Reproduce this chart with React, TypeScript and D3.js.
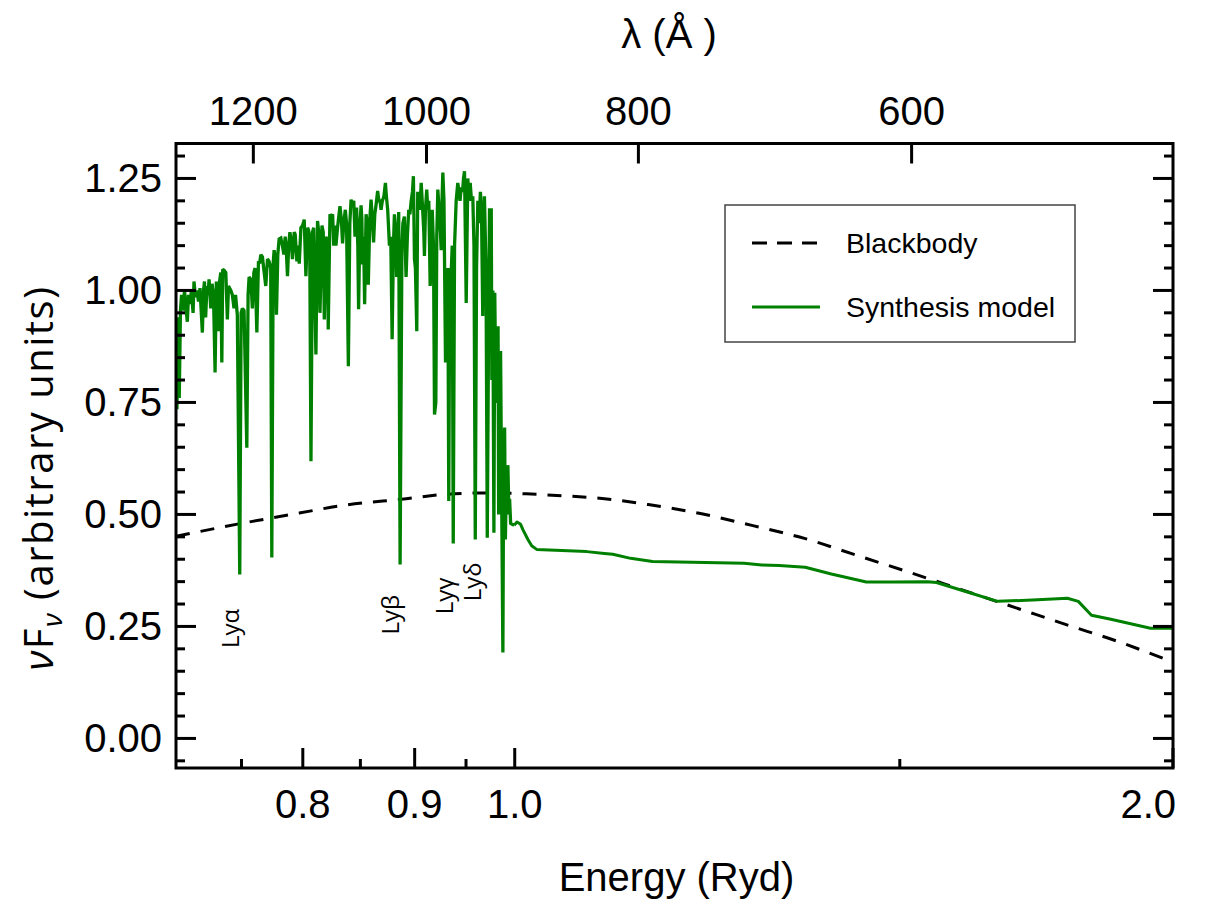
import React from 'react';
import * as d3 from 'd3';

// ---------- data ----------
const energyDomain: [number, number] = [0.7, 2.0];
const fluxDomain: [number, number] = [-0.066, 1.328];

const bottomMajorTicks = [0.8, 0.9, 1.0, 2.0];
const bottomTickLabels = ['0.8', '0.9', '1.0', '2.0'];
const bottomMinorTicks = [0.75, 0.85, 0.95, 1.5];
const topTicksAngstrom = [1200, 1000, 800, 600];
const RYD_IN_ANGSTROM = 911.27;
const yMajorTicks = [0, 0.25, 0.5, 0.75, 1.0, 1.25];
const yTickLabels = ['0.00', '0.25', '0.50', '0.75', '1.00', '1.25'];
const yMinorTicks = [-0.05, 0.05, 0.1, 0.15, 0.2, 0.3, 0.35, 0.4, 0.45, 0.55, 0.6, 0.65, 0.7, 0.8, 0.85, 0.9, 0.95, 1.05, 1.1, 1.15, 1.2, 1.3];

const lymanLabels = [
  { name: 'Lyα', energy: 0.7483, flux: 0.202 },
  { name: 'Lyβ', energy: 0.8853, flux: 0.232 },
  { name: 'Lyγ', energy: 0.9373, flux: 0.277 },
  { name: 'Lyδ', energy: 0.9652, flux: 0.306 },
];

// Synthesis model, Lyman forest part (Energy [Ryd], nuFnu)
const synthesisForest: [number, number][] = [
  [0.7000, 0.80], [0.7007, 0.735], [0.7016, 0.94], [0.7024, 0.76], [0.7033, 0.955], [0.7041, 0.99], [0.7052, 0.955], [0.7063, 1.00],
  [0.7074, 0.96], [0.7084, 0.93], [0.7093, 0.99], [0.7104, 0.97], [0.7115, 1.00], [0.7127, 0.95], [0.7134, 1.02], [0.7145, 0.985],
  [0.7156, 1.00], [0.7168, 0.975], [0.7179, 1.005], [0.7197, 0.906], [0.7206, 1.00], [0.7213, 1.02], [0.7222, 0.94], [0.7232, 1.01],
  [0.7240, 0.99], [0.7248, 1.025], [0.7261, 0.96], [0.7271, 1.015], [0.7282, 0.99], [0.7294, 0.817], [0.7304, 1.02], [0.7311, 0.97],
  [0.7319, 0.909], [0.7329, 1.02], [0.7338, 1.04], [0.7346, 0.839], [0.7353, 1.047], [0.7363, 1.045], [0.7377, 1.04], [0.7389, 0.935],
  [0.7398, 1.01], [0.7416, 1.00], [0.7428, 0.99], [0.7441, 0.96], [0.7453, 0.99], [0.7467, 0.945], [0.7486, 0.366], [0.7497, 0.95],
  [0.7507, 0.96], [0.7520, 0.955], [0.7542, 0.649], [0.7552, 0.99], [0.7560, 1.03], [0.7574, 1.025], [0.7586, 0.96], [0.7598, 1.04],
  [0.7608, 1.05], [0.7622, 0.906], [0.7635, 1.065], [0.7644, 1.06], [0.7654, 1.08], [0.7667, 1.075], [0.7681, 1.04], [0.7694, 1.01],
  [0.7708, 1.07], [0.7721, 1.065], [0.7734, 1.05], [0.7743, 0.404], [0.7754, 1.06], [0.7762, 1.09], [0.7773, 1.07], [0.7781, 0.946],
  [0.7792, 1.08], [0.7803, 1.115], [0.7817, 1.117], [0.7830, 1.10], [0.7842, 1.08], [0.7853, 1.12], [0.7861, 1.095], [0.7872, 1.032],
  [0.7882, 1.10], [0.7892, 1.13], [0.7903, 1.11], [0.7913, 1.07], [0.7928, 1.13], [0.7936, 1.125], [0.7950, 1.065], [0.7961, 1.10],
  [0.7970, 1.06], [0.7984, 1.14], [0.7997, 1.144], [0.8012, 1.158], [0.8026, 1.032], [0.8040, 1.14], [0.8048, 1.135], [0.8058, 1.12],
  [0.8069, 0.619], [0.8082, 1.13], [0.8092, 1.14], [0.8111, 0.857], [0.8125, 1.155], [0.8135, 1.13], [0.8146, 0.95], [0.8163, 1.145],
  [0.8174, 1.13], [0.8183, 0.935], [0.8197, 1.12], [0.8209, 1.11], [0.8217, 0.913], [0.8232, 1.17], [0.8243, 1.165], [0.8255, 1.17],
  [0.8265, 1.10], [0.8274, 1.145], [0.8284, 1.10], [0.8298, 1.14], [0.8319, 1.188], [0.8331, 1.16], [0.8342, 1.105], [0.8353, 1.15],
  [0.8366, 1.18], [0.8377, 1.15], [0.8393, 0.831], [0.8406, 1.15], [0.8417, 1.203], [0.8428, 1.19], [0.8441, 1.20], [0.8452, 1.12],
  [0.8466, 1.185], [0.8477, 1.10], [0.8484, 0.958], [0.8495, 1.14], [0.8506, 1.19], [0.8513, 1.16], [0.8520, 1.058], [0.8529, 1.12],
  [0.8538, 0.969], [0.8551, 1.17], [0.8562, 1.15], [0.8571, 1.013], [0.8585, 1.16], [0.8596, 1.203], [0.8608, 1.16], [0.8619, 1.107],
  [0.8630, 1.17], [0.8641, 1.19], [0.8656, 1.222], [0.8667, 1.20], [0.8678, 1.20], [0.8687, 1.18], [0.8699, 1.20], [0.8713, 1.21],
  [0.8727, 1.240], [0.8736, 1.21], [0.8748, 1.18], [0.8764, 1.10], [0.8776, 1.12], [0.8789, 0.891], [0.8801, 1.10], [0.8810, 1.17],
  [0.8822, 1.13], [0.8831, 1.03], [0.8841, 1.10], [0.8850, 1.175], [0.8863, 0.388], [0.8880, 1.10], [0.8889, 1.15], [0.8903, 1.165],
  [0.8919, 1.03], [0.8931, 1.12], [0.8944, 1.18], [0.8955, 1.17], [0.8967, 1.20], [0.8979, 1.22], [0.8988, 1.255], [0.8998, 1.07],
  [0.9007, 1.05], [0.9020, 0.909], [0.9029, 1.22], [0.9039, 1.21], [0.9050, 1.18], [0.9062, 1.240], [0.9074, 1.19], [0.9087, 1.13],
  [0.9093, 1.077], [0.9103, 1.18], [0.9115, 1.225], [0.9125, 1.18], [0.9135, 1.20], [0.9148, 1.01], [0.9158, 1.05], [0.9168, 1.18],
  [0.9180, 1.10], [0.9190, 0.723], [0.9203, 0.75], [0.9212, 1.12], [0.9222, 1.225], [0.9232, 1.19], [0.9238, 1.18], [0.9255, 1.09],
  [0.9263, 1.20], [0.9271, 1.263], [0.9282, 1.20], [0.9297, 0.839], [0.9310, 1.03], [0.9320, 1.05], [0.9329, 0.530], [0.9339, 1.05],
  [0.9353, 1.04], [0.9363, 1.10], [0.9373, 0.435], [0.9386, 1.10], [0.9402, 1.20], [0.9418, 1.24], [0.9430, 1.22], [0.9440, 1.20],
  [0.9452, 1.23], [0.9465, 1.22], [0.9475, 1.25], [0.9485, 1.266], [0.9502, 0.972], [0.9518, 1.25], [0.9530, 1.20], [0.9542, 1.24],
  [0.9555, 1.20], [0.9568, 1.21], [0.9580, 1.10], [0.9593, 0.444], [0.9606, 1.05], [0.9619, 1.20], [0.9631, 1.15], [0.9645, 1.22],
  [0.9656, 1.18], [0.9669, 0.943], [0.9676, 1.10], [0.9686, 1.21], [0.9702, 1.05], [0.9715, 0.448], [0.9728, 0.90], [0.9738, 1.18],
  [0.9756, 1.18], [0.9762, 0.80], [0.9772, 1.00], [0.9783, 0.459], [0.9792, 0.995], [0.9804, 0.75], [0.9818, 0.76], [0.9826, 0.92],
  [0.9832, 0.50], [0.9842, 0.85], [0.9852, 0.865], [0.9866, 0.467], [0.9876, 0.192], [0.9884, 0.62], [0.9894, 0.694], [0.9902, 0.444],
  [0.9911, 0.56], [0.9920, 0.52], [0.9928, 0.61], [0.9939, 0.50], [0.9946, 0.535], [0.9957, 0.48], [0.9973, 0.478], [0.9994, 0.476],
];

// Synthesis model, ionising continuum part
const synthesisContinuum: [number, number][] = [
  [1.0024, 0.483], [1.0062, 0.478], [1.0089, 0.465], [1.0140, 0.444], [1.0180, 0.430], [1.0234, 0.422], [1.0788, 0.417],
  [1.0990, 0.413], [1.1088, 0.411], [1.1298, 0.402], [1.1561, 0.395], [1.2050, 0.393], [1.2732, 0.391], [1.2970, 0.387],
  [1.3211, 0.386], [1.3578, 0.382], [1.3956, 0.367], [1.4481, 0.349], [1.4884, 0.349], [1.5443, 0.350], [1.5591, 0.348],
  [1.6174, 0.324], [1.6627, 0.306], [1.7249, 0.309], [1.7895, 0.313], [1.8102, 0.306], [1.8354, 0.275], [1.8733, 0.266],
  [1.9531, 0.246], [2.0, 0.246],
];

// Blackbody curve
const blackbody: [number, number][] = [
  [0.700, 0.451], [0.748, 0.479], [0.797, 0.503], [0.834, 0.520], [0.892, 0.535], [0.930, 0.545], [0.970, 0.548],
  [1.012, 0.546], [1.040, 0.543], [1.099, 0.535], [1.151, 0.522], [1.216, 0.502], [1.285, 0.475], [1.358, 0.446],
  [1.435, 0.408], [1.517, 0.370], [1.603, 0.331], [1.694, 0.292], [1.790, 0.253], [1.891, 0.215], [2.0, 0.170],
];

const legendItems = [
  { label: 'Blackbody', kind: 'dash' },
  { label: 'Synthesis model', kind: 'solid' },
];

// ---------- layout ----------
const W = 1215;
const H = 905;
const PL = 176, PR = 1173, PT = 143.5, PB = 768;
const GREEN = '#008000';
const SANS = '"Liberation Sans", Arial, Helvetica, sans-serif';
const LABEL_FONT = '"Open Sans", "DejaVu Sans", sans-serif';

export default function App() {
  const x = d3.scaleLog().domain(energyDomain).range([PL, PR]);
  const y = d3.scaleLinear().domain(fluxDomain).range([PB, PT]);

  const line = d3.line<[number, number]>().x(d => x(d[0])).y(d => y(d[1]));
  const forestPath = line(synthesisForest) || '';
  const contPath = line([synthesisForest[synthesisForest.length - 1], ...synthesisContinuum]) || '';
  const bbPath = d3.line<[number, number]>().x(d => x(d[0])).y(d => y(d[1])).curve(d3.curveMonotoneX)(blackbody) || '';

  const MAJ = 20, MIN = 9;

  return (
    <svg width={W} height={H} viewBox={`0 0 ${W} ${H}`} style={{ position: 'absolute', left: 0, top: 0, background: '#fff' }}>
      <defs>
        <clipPath id="plotClip">
          <rect x={PL} y={PT} width={PR - PL} height={PB - PT} />
        </clipPath>
      </defs>
      <rect x={0} y={0} width={W} height={H} fill="#fff" />

      {/* data */}
      <g clipPath="url(#plotClip)">
        <path d={bbPath} fill="none" stroke="#000" strokeWidth={3} strokeDasharray="14 11" />
        <path d={forestPath} fill="none" stroke={GREEN} strokeWidth={3.3} strokeLinejoin="miter" strokeMiterlimit={2} />
        <path d={contPath} fill="none" stroke={GREEN} strokeWidth={3} strokeLinejoin="round" />
      </g>

      {/* Lyman labels */}
      {lymanLabels.map(l => (
        <text key={l.name} transform={`translate(${x(l.energy)},${y(l.flux)}) rotate(-90)`}
          fontFamily={LABEL_FONT} fontSize={24} fill="#000">{l.name}</text>
      ))}

      {/* left / right ticks */}
      {yMajorTicks.map(t => (
        <g key={'ym' + t}>
          <line x1={PL} x2={PL + MAJ} y1={y(t)} y2={y(t)} stroke="#000" strokeWidth={3} />
          <line x1={PR} x2={PR - MAJ} y1={y(t)} y2={y(t)} stroke="#000" strokeWidth={3} />
        </g>
      ))}
      {yMinorTicks.map(t => (
        <g key={'yn' + t}>
          <line x1={PL} x2={PL + MIN} y1={y(t)} y2={y(t)} stroke="#000" strokeWidth={3} />
          <line x1={PR} x2={PR - MIN} y1={y(t)} y2={y(t)} stroke="#000" strokeWidth={3} />
        </g>
      ))}
      {yMajorTicks.map((t, i) => (
        <text key={'yl' + t} x={162} y={y(t) + 14} textAnchor="end" fontFamily={SANS} fontSize={40} fill="#000">{yTickLabels[i]}</text>
      ))}

      {/* bottom ticks */}
      {bottomMajorTicks.map(t => (
        <line key={'bm' + t} x1={x(t)} x2={x(t)} y1={PB} y2={PB - MAJ} stroke="#000" strokeWidth={3} />
      ))}
      {bottomMinorTicks.map(t => (
        <line key={'bn' + t} x1={x(t)} x2={x(t)} y1={PB} y2={PB - MIN} stroke="#000" strokeWidth={3} />
      ))}
      {bottomMajorTicks.map((t, i) => (
        <text key={'bl' + t} x={t === 2.0 ? x(t) + 3 : x(t)} y={818} textAnchor={t === 2.0 ? 'end' : 'middle'}
          fontFamily={SANS} fontSize={40} fill="#000">{bottomTickLabels[i]}</text>
      ))}

      {/* top ticks (wavelength) */}
      {topTicksAngstrom.map(l => {
        const xe = x(RYD_IN_ANGSTROM / l);
        return (
          <g key={'t' + l}>
            <line x1={xe} x2={xe} y1={PT} y2={PT + MAJ} stroke="#000" strokeWidth={3} />
            <text x={xe} y={125} textAnchor="middle" fontFamily={SANS} fontSize={40} fill="#000">{l}</text>
          </g>
        );
      })}

      {/* frame */}
      <rect x={PL} y={PT} width={PR - PL} height={PB - PT} fill="none" stroke="#000" strokeWidth={3} />

      {/* axis titles */}
      <text x={(PL + PR) / 2 + 2} y={891} textAnchor="middle" fontFamily={SANS} fontSize={40} fill="#000">Energy (Ryd)</text>
      <text x={669} y={48} textAnchor="middle" fontFamily={SANS} fontSize={40} fill="#000">λ (Å )</text>
      <text transform="translate(53,478) rotate(-90)" textAnchor="middle" fontFamily={LABEL_FONT} fontSize={40} fill="#000" letterSpacing={1.5}>
        <tspan fontStyle="italic">ν</tspan>
        <tspan>F</tspan>
        <tspan fontStyle="italic" fontSize={28} dy={9}>ν</tspan>
        <tspan dy={-9}>  (arbitrary units)</tspan>
      </text>

      {/* legend */}
      <rect x={725} y={205} width={350} height={137} fill="#fff" stroke="#444" strokeWidth={1.5} />
      {legendItems.map((it, i) => {
        const ly = 243 + i * 64;
        return (
          <g key={it.label}>
            {it.kind === 'dash'
              ? <line x1={752} x2={817} y1={ly} y2={ly} stroke="#000" strokeWidth={3} strokeDasharray="15 10" />
              : <line x1={752} x2={820} y1={ly} y2={ly} stroke={GREEN} strokeWidth={3} />}
            <text x={846} y={ly + 10} fontFamily={SANS} fontSize={28.5} fill="#000">{it.label}</text>
          </g>
        );
      })}
    </svg>
  );
}
